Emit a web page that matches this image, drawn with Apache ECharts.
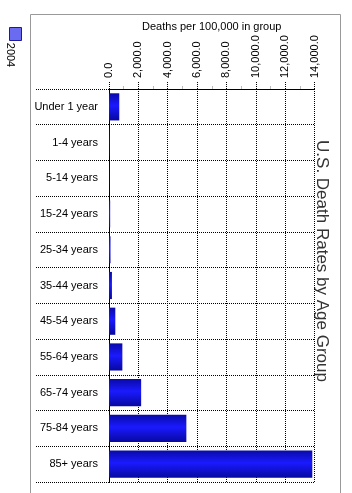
<!DOCTYPE html>
<html lang="en">
<head>
    <meta charset="UTF-8">
    <title>U.S. Death Rates by Age Group</title>
    <script src="https://cdn.jsdelivr.net/npm/echarts@6/dist/echarts.min.js"></script>
    <style type="text/css">
        html, body { margin: 0; padding: 0; background: #fff; }
        #chart { width: 352px; height: 493px; }
    </style>
</head>
<body>
<div id="chart"></div>
<script>
    // age groups, top to bottom
    var ageGroups = ['Under 1 year', '1-4 years', '5-14 years', '15-24 years', '25-34 years',
        '35-44 years', '45-54 years', '55-64 years', '65-74 years', '75-84 years', '85+ years'];
    // deaths per 100,000
    var rates2004 = [700, 30, 17, 80, 102, 200, 430, 910, 2190, 5270, 13850];
    var seriesName = '2004';

    var chart = echarts.init(document.getElementById('chart'));
    var font = 'Liberation Sans';

    var option = {
        animation: false,
        grid: {
            left: 109,
            right: 37.5,
            top: 89,
            bottom: 11
        },
        legend: {
            data: [{
                name: seriesName,
                itemStyle: { color: '#6b6bf2', borderColor: '#1a1a9a', borderWidth: 1 }
            }],
            orient: 'vertical',
            left: 4,
            top: 22,
            itemWidth: 12,
            itemHeight: 13,
            icon: 'rect',
            formatter: function () { return ''; },
            selectedMode: false
        },
        xAxis: {
            type: 'value',
            position: 'top',
            min: 0,
            max: 14000,
            interval: 2000,
            name: 'Deaths per 100,000 in group',
            nameLocation: 'middle',
            nameGap: 57,
            nameMoveOverlap: false,
            nameTextStyle: { fontFamily: font, fontSize: 11, color: '#000' },
            axisLine: { show: true, lineStyle: { color: '#000', width: 1 } },
            axisTick: { show: true, length: 8, lineStyle: { color: '#000', type: 'dotted' } },
            minorTick: { show: true, splitNumber: 2, length: 3, lineStyle: { color: '#bbb' } },
            axisLabel: {
                rotate: -90,
                margin: 11,
                fontFamily: font,
                fontSize: 11,
                color: '#000',
                formatter: function (v) {
                    return v.toLocaleString('en-US', { minimumFractionDigits: 1, maximumFractionDigits: 1 });
                }
            },
            splitLine: { show: true, lineStyle: { color: '#000', type: 'dotted' } }
        },
        yAxis: {
            type: 'category',
            data: ageGroups,
            inverse: true,
            axisLine: { show: true, lineStyle: { color: '#000', width: 1 } },
            axisTick: { show: true, inside: false, length: 74, lineStyle: { color: '#000', type: 'dotted' } },
            axisLabel: { margin: 11, fontFamily: font, fontSize: 11, color: '#000' },
            splitLine: { show: true, lineStyle: { color: '#000', type: 'dotted' } }
        },
        series: [{
            name: seriesName,
            type: 'bar',
            data: rates2004,
            barCategoryGap: '24%',
            itemStyle: {
                color: new echarts.graphic.LinearGradient(0, 0, 0, 1, [
                    { offset: 0, color: '#0a0aa8' },
                    { offset: 0.45, color: '#1a1aff' },
                    { offset: 1, color: '#0808a0' }
                ])
            }
        }],
        graphic: [
            {
                type: 'polyline',
                shape: { points: [[30.5, 493], [30.5, 14.5], [340.5, 14.5], [340.5, 493]] },
                style: { stroke: '#999', lineWidth: 1, fill: null }
            },
            {
                type: 'text',
                x: 10,
                y: 55,
                rotation: -Math.PI / 2,
                style: {
                    text: seriesName,
                    fontFamily: font,
                    fontSize: 11,
                    fill: '#000',
                    align: 'center',
                    verticalAlign: 'middle'
                }
            },
            {
                type: 'text',
                x: 322,
                y: 261,
                rotation: -Math.PI / 2,
                style: {
                    text: 'U.S. Death Rates by Age Group',
                    fontFamily: font,
                    fontSize: 17,
                    fill: '#333',
                    align: 'center',
                    verticalAlign: 'middle'
                }
            }
        ]
    };
    chart.setOption(option);
</script>
</body>
</html>
